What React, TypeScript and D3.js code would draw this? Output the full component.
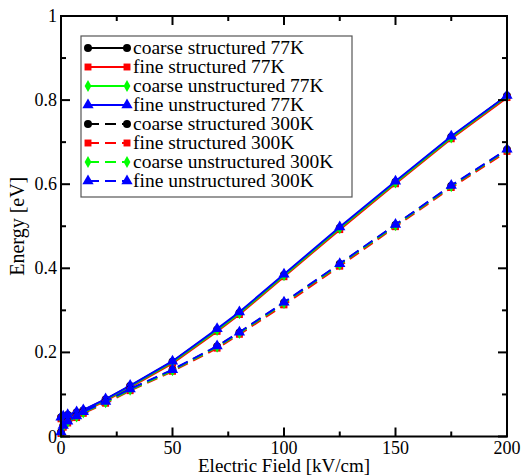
import React from 'react';
import * as d3 from 'd3';

// Electric field values [kV/cm]
const fields = [0, 1, 3, 7, 10, 20, 31, 50, 70, 80, 100, 125, 150, 175, 200];

// Energy [eV] per series
const coarseStruct77 = [0.045, 0.047, 0.051, 0.057, 0.062, 0.088, 0.120, 0.178, 0.254, 0.294, 0.384, 0.496, 0.605, 0.712, 0.810];
const fineStruct77 = [0.042, 0.044, 0.048, 0.054, 0.059, 0.085, 0.117, 0.174, 0.250, 0.290, 0.380, 0.492, 0.601, 0.708, 0.806];
const coarseUnstruct77 = [0.044, 0.046, 0.050, 0.056, 0.061, 0.087, 0.119, 0.177, 0.253, 0.293, 0.383, 0.495, 0.604, 0.711, 0.809];
const fineUnstruct77 = [0.046, 0.048, 0.052, 0.058, 0.063, 0.089, 0.121, 0.179, 0.256, 0.296, 0.386, 0.498, 0.607, 0.714, 0.811];
const coarseStruct300 = [0.010, 0.025, 0.035, 0.048, 0.058, 0.082, 0.112, 0.158, 0.214, 0.247, 0.318, 0.410, 0.503, 0.596, 0.682];
const fineStruct300 = [0.007, 0.022, 0.032, 0.045, 0.055, 0.079, 0.109, 0.155, 0.210, 0.243, 0.313, 0.405, 0.499, 0.592, 0.678];
const coarseUnstruct300 = [0.009, 0.024, 0.034, 0.047, 0.057, 0.081, 0.111, 0.157, 0.213, 0.246, 0.317, 0.409, 0.502, 0.595, 0.681];
const fineUnstruct300 = [0.011, 0.026, 0.036, 0.049, 0.059, 0.083, 0.113, 0.159, 0.215, 0.248, 0.319, 0.411, 0.504, 0.597, 0.683];

const xTicks = [0, 50, 100, 150, 200];
const yTicks = [0, 0.2, 0.4, 0.6, 0.8, 1];

type Series = { name: string; values: number[]; color: string; marker: string; dashed: boolean };

const series: Series[] = [
  { name: 'coarse structured 77K', values: coarseStruct77, color: '#000000', marker: 'circle', dashed: false },
  { name: 'fine structured 77K', values: fineStruct77, color: '#ff0000', marker: 'square', dashed: false },
  { name: 'coarse unstructured 77K', values: coarseUnstruct77, color: '#00ff00', marker: 'diamond', dashed: false },
  { name: 'fine unstructured 77K', values: fineUnstruct77, color: '#0000ff', marker: 'triangle', dashed: false },
  { name: 'coarse structured 300K', values: coarseStruct300, color: '#000000', marker: 'circle', dashed: true },
  { name: 'fine structured 300K', values: fineStruct300, color: '#ff0000', marker: 'square', dashed: true },
  { name: 'coarse unstructured 300K', values: coarseUnstruct300, color: '#00ff00', marker: 'diamond', dashed: true },
  { name: 'fine unstructured 300K', values: fineUnstruct300, color: '#0000ff', marker: 'triangle', dashed: true },
];

const symbols: Record<string, any> = {
  circle: d3.symbol(d3.symbolCircle, 50),
  square: d3.symbol(d3.symbolSquare, 48),
  diamond: d3.symbol(d3.symbolDiamond, 40),
  triangle: d3.symbol(d3.symbolTriangle, 55),
};

const font = '"Liberation Serif", "Times New Roman", serif';

const App = () => {
  const W = 521, H = 476;
  const left = 61, right = 507, top = 16, bottom = 436.5;

  const x = d3.scaleLinear().domain([0, 200]).range([left, right]);
  const y = d3.scaleLinear().domain([0, 1]).range([bottom, top]);

  const line = d3.line<number>()
    .x((d, i) => x(fields[i]))
    .y((d) => y(d));

  const xMinor = d3.range(0, 201, 25);
  const yMinor = d3.range(0, 11).map((d) => d / 10);

  // legend layout
  const lgX = 81, lgY = 36, lgW = 271, lgH = 161, rowH = 19;

  return (
    <svg width={W} height={H} style={{ position: 'absolute', left: 0, top: 0, background: '#fff' }} fontFamily={font}>
      {/* data lines */}
      {series.map((s) => (
        <g key={s.name}>
          <path d={line(s.values) || ''} fill="none" stroke={s.color} strokeWidth={2}
            strokeDasharray={s.dashed ? '11,6' : undefined} />
          {s.values.map((v, i) => (
            <path key={i} d={symbols[s.marker]() || ''} transform={`translate(${x(fields[i])},${y(v)})`} fill={s.color} />
          ))}
        </g>
      ))}

      {/* frame */}
      <rect x={left} y={top} width={right - left} height={bottom - top} fill="none" stroke="#000" strokeWidth={2} />

      {/* x ticks */}
      {xMinor.map((t) => {
        const major = t % 50 === 0;
        const len = major ? 9 : 5;
        return (
          <g key={'xt' + t}>
            <line x1={x(t)} x2={x(t)} y1={bottom} y2={bottom - len} stroke="#000" strokeWidth={2} />
            <line x1={x(t)} x2={x(t)} y1={top} y2={top + len} stroke="#000" strokeWidth={2} />
          </g>
        );
      })}
      {/* y ticks */}
      {yMinor.map((t, i) => {
        const major = i % 2 === 0;
        const len = major ? 9 : 5;
        return (
          <g key={'yt' + i}>
            <line x1={left} x2={left + len} y1={y(t)} y2={y(t)} stroke="#000" strokeWidth={2} />
            <line x1={right} x2={right - len} y1={y(t)} y2={y(t)} stroke="#000" strokeWidth={2} />
          </g>
        );
      })}

      {/* tick labels */}
      {xTicks.map((t) => (
        <text key={'xl' + t} x={x(t)} y={bottom + 17.5} textAnchor="middle" fontSize={18}>{t}</text>
      ))}
      {yTicks.map((t) => (
        <text key={'yl' + t} x={left - 4} y={y(t) + 6} textAnchor="end" fontSize={18}>{d3.format('~g')(t)}</text>
      ))}

      {/* axis titles */}
      <text x={x(100)} y={471.5} textAnchor="middle" fontSize={19}>Electric Field [kV/cm]</text>
      <text transform={`translate(24,${y(0.5)}) rotate(-90)`} textAnchor="middle" fontSize={20}>Energy [eV]</text>

      {/* legend */}
      <rect x={lgX} y={lgY} width={lgW} height={lgH} fill="#fff" stroke="#555" strokeWidth={1.2} />
      {series.map((s, i) => {
        const cy = lgY + 12 + i * rowH;
        return (
          <g key={'lg' + s.name}>
            <line x1={88} x2={127} y1={cy} y2={cy} stroke={s.color} strokeWidth={2}
              strokeDasharray={s.dashed ? '11,6' : undefined} />
            <path d={symbols[s.marker]() || ''} transform={`translate(88,${cy})`} fill={s.color} />
            <path d={symbols[s.marker]() || ''} transform={`translate(127,${cy})`} fill={s.color} />
            <text x={133} y={cy + 6} fontSize={19.5}>{s.name}</text>
          </g>
        );
      })}
    </svg>
  );
};

export default App;
